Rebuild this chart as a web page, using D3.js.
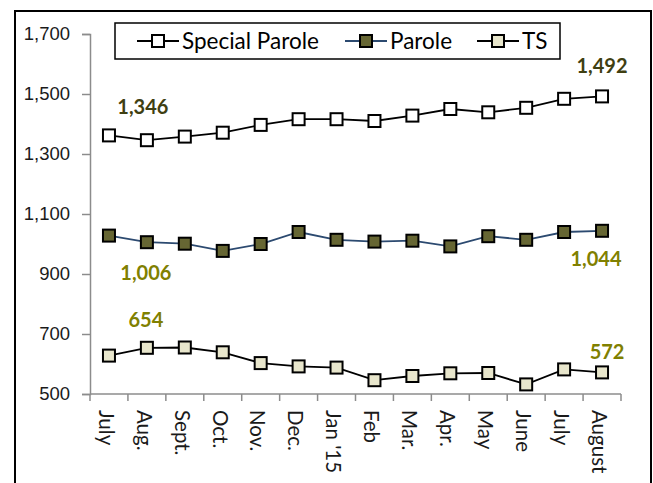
<!DOCTYPE html>
<html>
<head>
<meta charset="utf-8">
<script src="https://cdn.jsdelivr.net/npm/d3@7"></script>
<style>
  body { margin: 0; background: #fff; }
  svg { font-family: Lato, "Liberation Sans", sans-serif; }
</style>
</head>
<body>
<div id="chart"></div>
<script>
const months = ["July", "Aug.", "Sept.", "Oct.", "Nov.", "Dec.", "Jan '15", "Feb", "Mar.", "Apr.", "May", "June", "July", "August"];
const specialParole = [1362, 1346, 1358, 1371, 1397, 1416, 1416, 1410, 1428, 1450, 1439, 1454, 1484, 1492];
const parole = [1028, 1006, 1001, 977, 1000, 1040, 1014, 1008, 1011, 992, 1026, 1014, 1040, 1044];
const ts = [628, 654, 655, 639, 603, 592, 588, 546, 560, 569, 570, 532, 582, 572];
const yTicks = [500, 700, 900, 1100, 1300, 1500, 1700];

const width = 653, height = 483;
const margins = { top: 34, bottom: 89, left: 90, right: 32 };

const svg = d3.select("#chart").append("svg")
  .attr("width", width).attr("height", height);

// outer frame
svg.append("rect")
  .attr("x", 15).attr("y", 11)
  .attr("width", 636).attr("height", 490)
  .attr("fill", "none").attr("stroke", "#000").attr("stroke-width", 2);

// x is built on category slots, points sit mid-slot
const xScale = d3.scaleBand().domain(d3.range(months.length))
  .range([margins.left, width - margins.right]);
const xMid = (i) => xScale(i) + xScale.bandwidth() / 2;

const yScale = d3.scaleLinear().domain([500, 1700])
  .range([height - margins.bottom, margins.top]);

const yAxis = d3.axisLeft(yScale).tickValues(yTicks)
  .tickFormat(d3.format(",")).tickSizeOuter(0).tickSize(8).tickPadding(12);

const gy = svg.append("g")
  .attr("transform", `translate(${margins.left},0)`)
  .call(yAxis);
gy.select(".domain").attr("stroke", "#8c8c8c").attr("stroke-width", 1.5);
gy.selectAll(".tick line").attr("stroke", "#8c8c8c").attr("stroke-width", 1.5);
gy.selectAll(".tick text").attr("font-size", 18.5).attr("fill", "#1a1a1a");

// x axis: ticks at slot boundaries
const xBounds = d3.range(months.length + 1).map((i) =>
  i < months.length ? xScale(i) : xScale(i - 1) + xScale.bandwidth());
const gx = svg.append("g");
gx.append("line")
  .attr("x1", xBounds[0]).attr("x2", xBounds[xBounds.length - 1])
  .attr("y1", yScale(500)).attr("y2", yScale(500))
  .attr("stroke", "#8c8c8c").attr("stroke-width", 1.5);
gx.selectAll(".xtick").data(xBounds).join("line")
  .attr("class", "xtick")
  .attr("x1", (d) => d).attr("x2", (d) => d)
  .attr("y1", yScale(500)).attr("y2", yScale(500) + 7)
  .attr("stroke", "#8c8c8c").attr("stroke-width", 1.5);
gx.selectAll(".xlabel").data(months).join("text")
  .attr("class", "xlabel")
  .attr("transform", (d, i) => `translate(${xMid(i) - 3},${yScale(500) + 16}) rotate(90)`)
  .attr("dy", "0.35em")
  .attr("font-size", 20.5)
  .attr("fill", "#1a1a1a")
  .text((d) => d);

const series = [
  { name: "Special Parole", values: specialParole, line: "#000", fill: "#fff" },
  { name: "Parole", values: parole, line: "#2c4a70", fill: "#666633" },
  { name: "TS", values: ts, line: "#000", fill: "#e8e6cc" }
];

const line = d3.line().x((d, i) => xMid(i)).y((d) => yScale(d));
const ms = 12;

series.forEach((s) => {
  svg.append("path")
    .datum(s.values)
    .attr("d", line)
    .attr("fill", "none")
    .attr("stroke", s.line)
    .attr("stroke-width", 1.8);
  svg.selectAll(null).data(s.values).join("rect")
    .attr("x", (d, i) => xMid(i) - ms / 2)
    .attr("y", (d) => yScale(d) - ms / 2)
    .attr("width", ms).attr("height", ms)
    .attr("fill", s.fill)
    .attr("stroke", "#000").attr("stroke-width", 2);
});

// data labels
const labels = [
  { v: specialParole[1], i: 1, dx: -4, dy: -33, color: "#3f3f12" },
  { v: specialParole[13], i: 13, dx: 0, dy: -30, color: "#3f3f12" },
  { v: parole[1], i: 1, dx: -1, dy: 31, color: "#808000" },
  { v: parole[13], i: 13, dx: -6, dy: 28, color: "#808000" },
  { v: ts[1], i: 1, dx: -1, dy: -28, color: "#808000" },
  { v: ts[13], i: 13, dx: 5, dy: -20, color: "#808000" }
];
svg.selectAll(".dlabel").data(labels).join("text")
  .attr("class", "dlabel")
  .attr("x", (d) => xMid(d.i) + d.dx)
  .attr("y", (d) => yScale(d.v) + d.dy)
  .attr("dy", "0.35em")
  .attr("text-anchor", "middle")
  .attr("font-size", 20)
  .attr("font-weight", "bold")
  .attr("fill", (d) => d.color)
  .text((d) => d3.format(",")(d.v));

// legend
const legend = svg.append("g");
legend.append("rect")
  .attr("x", 115).attr("y", 23).attr("width", 445).attr("height", 36)
  .attr("fill", "#fff").attr("stroke", "#000").attr("stroke-width", 1.5);
const legendX = [137, 345, 477];
series.forEach((s, k) => {
  const g = legend.append("g").attr("transform", `translate(${legendX[k]},41)`);
  g.append("line").attr("x1", 0).attr("x2", 42).attr("y1", 0).attr("y2", 0)
    .attr("stroke", s.line).attr("stroke-width", 1.8);
  g.append("rect").attr("x", 21 - ms / 2).attr("y", -ms / 2)
    .attr("width", ms).attr("height", ms)
    .attr("fill", s.fill).attr("stroke", "#000").attr("stroke-width", 2);
  g.append("text").attr("x", 45).attr("dy", "0.35em")
    .attr("font-size", 22.5).attr("fill", "#000").text(s.name);
});
</script>
</body>
</html>
